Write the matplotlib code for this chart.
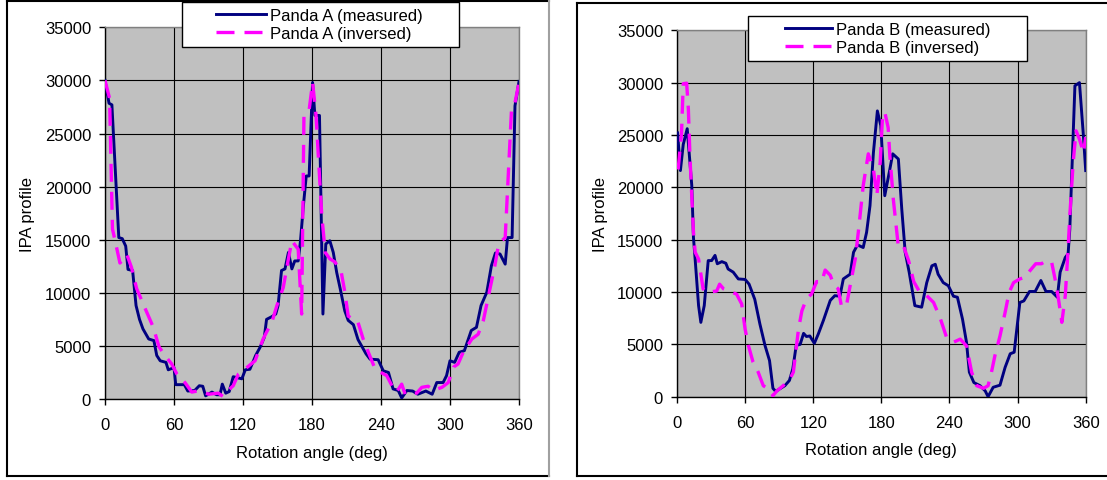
import numpy as np
import matplotlib
matplotlib.use('Agg')
import matplotlib.pyplot as plt
from matplotlib.lines import Line2D
from matplotlib.legend_handler import HandlerLine2D

plt.rcParams['font.family'] = ['Liberation Sans', 'DejaVu Sans']

W, H = 1107, 481

# Panda A (measured)
a_meas_angle = [0, 3.5, 6, 12, 15, 18, 20, 24, 27, 30, 33, 38, 42.5, 45, 48, 53, 55, 60,
                61.5, 69, 72, 78, 82, 85, 87.5, 93, 97, 100, 102, 105, 108, 111.5, 119,
                122, 126, 131, 135, 138.5, 140.5, 145, 148.5, 150.5, 153.5, 156.5, 159.5,
                162.5, 165, 168, 170, 172.5, 175, 177.5, 180.5, 182.5, 186.5, 189.5, 192,
                195.5, 198.5, 201.5, 204.5, 208.5, 211.5, 216, 220, 227, 230.5, 237.5,
                242, 246.5, 250.5, 255, 258, 262.5, 267.5, 272, 279, 284.5, 288.5, 294,
                297, 300, 304, 308, 312.5, 318.5, 323, 327, 332, 336, 339.5, 343.5, 348,
                350, 354, 356.5, 360]
a_meas_ipa = [30000, 27850, 27700, 15200, 15100, 14400, 12200, 12100, 8800, 7500, 6600,
              5650, 5500, 4100, 3600, 3450, 2750, 2950, 1350, 1350, 750, 800, 1250, 1200,
              300, 650, 400, 400, 1400, 550, 700, 2100, 1900, 2750, 2800, 4100, 4900, 5800,
              7500, 7750, 8000, 8800, 12100, 12250, 13800, 12250, 13000, 13000, 14900,
              18200, 21000, 21000, 29800, 26700, 26700, 8000, 14600, 14900, 13800, 11900,
              10400, 8300, 7400, 7000, 5600, 4250, 3750, 3700, 2650, 2500, 950, 800, 100,
              800, 750, 450, 750, 450, 1550, 1550, 2200, 3600, 3450, 4400, 4550, 6450,
              6750, 8800, 10050, 12550, 13750, 13650, 12700, 15200, 15200, 27600, 29900]

# Panda A (inversed)
a_inv_angle = [0, 4, 6.5, 9, 13, 19, 23, 27.5, 35, 42, 47, 53.5, 58, 62.5, 69.5, 75.5,
               82.5, 90, 98.5, 102.5, 106, 111.5, 116, 121.5, 130.5, 137.5, 140.5, 145,
               149.5, 155, 159.5, 162.5, 168, 171, 173, 177.5, 180.5, 183.5, 185.5, 188.5,
               191.5, 195.5, 200, 205.5, 208.5, 211.5, 214.5, 219.5, 224.5, 229, 235, 239,
               245, 249.5, 253.5, 258, 261, 265, 271, 275.5, 281, 285.5, 293, 298.5, 303,
               307, 311.5, 319, 324.5, 329, 335, 339, 342, 345, 348, 350.5, 353.5, 356.5,
               360]
a_inv_ipa = [30000, 28300, 16000, 14800, 12800, 13600, 12400, 10400, 8500, 6750, 4900,
             3900, 3300, 2350, 1550, 650, 800, 450, 550, 250, 700, 1250, 2350, 2800, 3600,
             5650, 6300, 7200, 8800, 10500, 13200, 14900, 14100, 8000, 26700, 27200, 29800,
             26700, 22900, 17300, 13800, 13200, 12900, 11900, 10100, 7800, 7600, 7400,
             5650, 4400, 2800, 2550, 2200, 1250, 650, 1400, 450, 550, 550, 1100, 1200, 800,
             1100, 1550, 3000, 3300, 4400, 5650, 6100, 7400, 10500, 12550, 14400, 14900,
             15200, 20700, 27300, 27900, 29800]

# Panda B (measured)
b_meas_angle = [0.5, 3, 5.5, 9, 13, 14.5, 16, 19, 21, 24, 27.5, 30.5, 33.5, 35.5, 39.5,
                43, 45, 49.5, 54, 60, 63.5, 68.5, 73, 77.5, 81.5, 84.5, 87, 90.5, 95, 99,
                102, 105, 108.5, 111.5, 114, 117, 121, 124.5, 129, 135, 139, 143.5, 146.5,
                152.5, 155.5, 159, 164, 167, 170, 173, 176.5, 179.5, 183, 187, 190, 195,
                198, 201, 204.5, 209.5, 215.5, 220, 224.5, 227.5, 230, 234.5, 239, 243.5,
                247, 251.5, 255, 257.5, 261.5, 267, 271.5, 274, 278.5, 284.5, 289, 293.5,
                297, 302, 305.5, 310.5, 315.5, 320.5, 325, 330, 335, 337.5, 342, 344.5,
                346, 350.5, 354.5, 358, 360]
b_meas_ipa = [25200, 21600, 24100, 25600, 20200, 15200, 13100, 8700, 7100, 8700, 13000,
              13000, 13500, 12700, 12900, 12750, 12200, 11900, 11250, 11200, 10750, 9300,
              6950, 4900, 3450, 800, 500, 750, 1050, 1550, 2650, 4900, 5000, 6050, 5750,
              5800, 5100, 6000, 7300, 9200, 9650, 9600, 11250, 11700, 13800, 14500, 14250,
              15700, 18250, 23300, 27300, 25900, 19200, 21450, 23200, 22700, 17900, 13800,
              11900, 8700, 8550, 10900, 12500, 12650, 11700, 10900, 10600, 9600, 9500,
              7400, 5200, 2350, 1350, 1050, 550, 0, 900, 1100, 2800, 4100, 4250, 9000,
              9150, 10050, 10050, 11100, 10050, 10050, 9500, 11900, 13300, 13650, 16000,
              29700, 30000, 24900, 21600]

# Panda B (inversed)
b_inv_angle = [1, 4, 5.5, 8.5, 10, 11.5, 14.5, 16, 19, 23, 26, 35, 37.5, 41, 46.5, 52.5,
               57, 60, 63, 67, 71.5, 76, 80.5, 84.5, 88, 93.5, 99.5, 102.5, 107, 110, 114,
               118.5, 123, 127.5, 130.5, 135, 138, 142, 145, 149.5, 152.5, 157, 160, 164,
               168.5, 173, 176, 179, 181, 183, 186, 187.5, 190.5, 195, 199.5, 204, 208.5,
               214, 220, 226, 232, 237.5, 243.5, 249.5, 255, 259.5, 264, 270, 274, 277,
               280, 284.5, 289, 292.5, 296.5, 302, 306.5, 311, 316, 321, 325.5, 330, 333,
               336, 339, 342, 344.5, 346, 349, 351.5, 354.5, 358, 360]
b_inv_ipa = [21700, 25200, 29900, 29950, 27500, 22700, 15700, 13800, 13150, 10300, 9950,
             10100, 10750, 10300, 10050, 9800, 8850, 6450, 4850, 3300, 2350, 1050, 750,
             100, 550, 1050, 1700, 2350, 6450, 8200, 9350, 9800, 11000, 10950, 12100,
             11600, 10700, 10300, 8550, 8850, 10600, 13150, 16000, 20150, 23200, 21750,
             19200, 22400, 26700, 27200, 25700, 23000, 18900, 14300, 14400, 13000, 11000,
             9950, 9650, 9000, 7450, 5650, 5200, 5500, 4850, 2350, 1050, 800, 1050, 2350,
             3900, 5800, 8050, 9950, 10900, 11250, 11400, 12050, 12700, 12700, 13000,
             12850, 11250, 9350, 7100, 9650, 14100, 17300, 22400, 25400, 24600, 23300,
             24800]

x_ticks = [0, 60, 120, 180, 240, 300, 360]
y_ticks = [0, 5000, 10000, 15000, 20000, 25000, 30000, 35000]

FS = 12


def fx(px):
    return px / W


def fy(py):
    return 1 - py / H


def draw_frame(fig, left, top, right, bottom):
    for xs, ys, col in [([left, right], [top, top], 'black'),
                        ([left, left], [top, bottom], 'black'),
                        ([left, right], [bottom, bottom], 'black'),
                        ([right, right], [top, bottom], '#a0a0a0')]:
        fig.add_artist(Line2D([fx(x) for x in xs], [fy(y) for y in ys],
                              color=col, lw=1.5, transform=fig.transFigure))


def draw_panel(fig, box, ang_m, ipa_m, ang_i, ipa_i, name, leg_box, xpad):
    left, top, right, bottom = box
    ax = fig.add_axes([fx(left), fy(bottom), fx(right) - fx(left), fy(top) - fy(bottom)])
    ax.set_facecolor('#c0c0c0')
    ax.plot(ang_m, ipa_m, color='#000080', lw=2.1, label=f'{name} (measured)', zorder=3)
    ax.plot(ang_i, ipa_i, color='#ff00ff', lw=2.4, ls=(0, (5.4, 3.0)),
            label=f'{name} (inversed)', zorder=4)
    ax.set_xlim(0, 360)
    ax.set_ylim(0, 35000)
    ax.set_xticks(x_ticks)
    ax.set_yticks(y_ticks)
    ax.grid(True, color='black', lw=0.8)
    ax.set_axisbelow(True)
    for s in ['left', 'bottom']:
        ax.spines[s].set_color('black')
        ax.spines[s].set_linewidth(1)
    for s in ['top', 'right']:
        ax.spines[s].set_color('#808080')
        ax.spines[s].set_linewidth(1)
    ax.tick_params(direction='out', length=4, width=1, color='black', labelsize=FS)
    ax.tick_params(axis='y', pad=6)
    ax.tick_params(axis='x', pad=9)
    ax.set_xlabel('Rotation angle (deg)', fontsize=FS)
    ax.set_ylabel('IPA profile', fontsize=FS)
    ax.xaxis.label.set_va('center')
    ax.yaxis.label.set_va('center')
    ax.xaxis.set_label_coords(0.5, -0.145)
    ax.yaxis.set_label_coords(-0.188, 0.5)

    lx0, ly0, lx1, ly1 = leg_box
    handler = HandlerLine2D(xpad=xpad)
    leg = ax.legend(loc='upper left',
                    bbox_to_anchor=(fx(lx0), fy(ly1), fx(lx1) - fx(lx0), fy(ly0) - fy(ly1)),
                    bbox_transform=fig.transFigure, mode='expand', borderaxespad=0,
                    fancybox=False, framealpha=1, edgecolor='black', fontsize=FS,
                    handlelength=4.7, handletextpad=0.25, labelspacing=0.22,
                    borderpad=0.33, handler_map={Line2D: handler})
    leg.get_frame().set_linewidth(1)
    return ax


fig = plt.figure(figsize=(W / 100, H / 100), dpi=100)

draw_frame(fig, 7, 2, 549, 477)
draw_frame(fig, 577, 4, 1110, 477)

draw_panel(fig, (105, 28.3, 519, 400), a_meas_angle, a_meas_ipa, a_inv_angle, a_inv_ipa,
           'Panda A', (182, 3, 459, 49), 1.7)
draw_panel(fig, (677, 31.3, 1085.7, 397.7), b_meas_angle, b_meas_ipa, b_inv_angle, b_inv_ipa,
           'Panda B', (748, 17, 1027, 63), 1.9)

plt.savefig('out.png', dpi=100)
